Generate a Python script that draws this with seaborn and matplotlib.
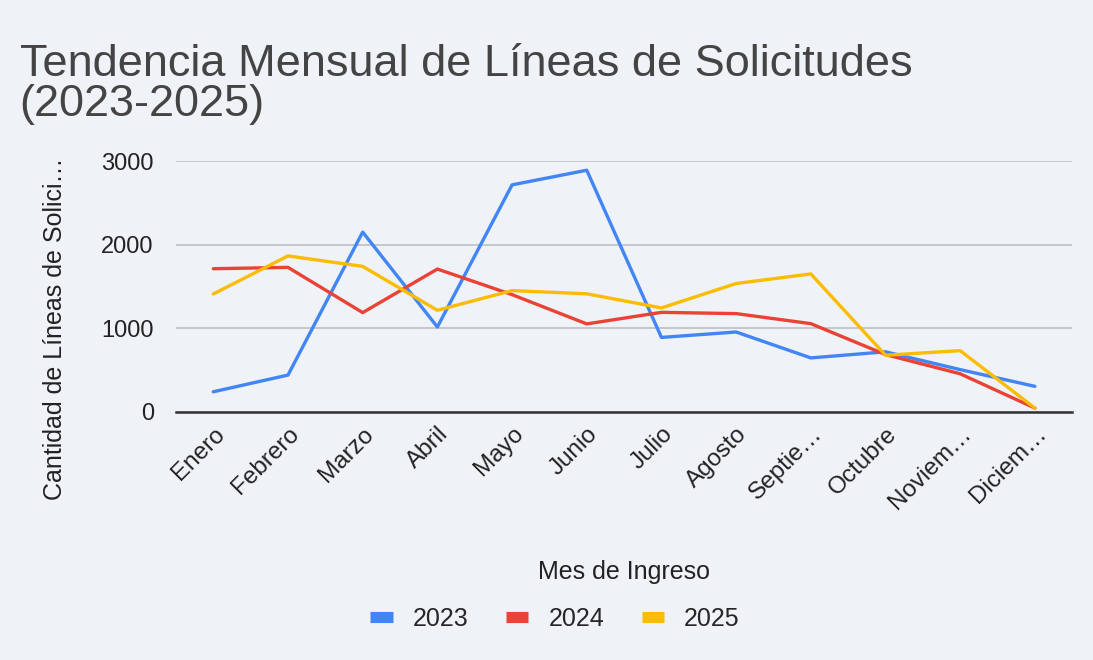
import numpy as np
import pandas as pd
import matplotlib.pyplot as plt
import matplotlib.transforms as mtransforms
import seaborn as sns
from matplotlib.lines import Line2D

# Month labels as shown (truncated in the original)
meses = ["Enero", "Febrero", "Marzo", "Abril", "Mayo", "Junio", "Julio",
         "Agosto", "Septie…", "Octubre", "Noviem…", "Diciem…"]
years = ["2023", "2024", "2025"]

lineas_2023 = [240, 440, 2150, 1015, 2715, 2890, 890, 955, 645, 718, 505, 305]
lineas_2024 = [1712, 1728, 1187, 1708, 1402, 1052, 1190, 1175, 1055, 685, 455, 45]
lineas_2025 = [1410, 1865, 1740, 1215, 1450, 1412, 1243, 1535, 1650, 677, 732, 45]

colors = ["#4285F4", "#EA4335", "#FBBC04"]
bg = "#eff2f7"

df = pd.DataFrame({
    "mes": list(range(12)) * 3,
    "lineas": lineas_2023 + lineas_2024 + lineas_2025,
    "anio": sum([[y] * 12 for y in years], []),
})

sns.set_style("white")
plt.rcParams["font.family"] = ["Liberation Sans", "DejaVu Sans"]

fig = plt.figure(figsize=(10.93, 6.6), dpi=100, facecolor=bg)
ax = fig.add_axes([0.161, 0.376, 0.82, 0.380], facecolor=bg)

sns.lineplot(data=df, x="mes", y="lineas", hue="anio", palette=colors,
             linewidth=2.4, ax=ax, legend=False)

ax.set_xlim(-0.5, 11.5)
ax.set_ylim(0, 3000)
ax.set_yticks([0, 1000, 2000, 3000])
ax.yaxis.grid(True, color="#c3c6cb", linewidth=1.4)
ax.set_axisbelow(True)
for s in ["top", "right", "left"]:
    ax.spines[s].set_visible(False)
ax.spines["bottom"].set_color("#333333")
ax.spines["bottom"].set_linewidth(1.8)
ax.spines["bottom"].set_zorder(5)

ax.set_xticks(range(12))
ax.set_xticklabels(meses, rotation=45, ha="right", va="top",
                   rotation_mode="anchor", fontsize=17.5, color="#222222")
# nudge the rotated month labels so their ends sit just right of each tick
shift = mtransforms.ScaledTranslation(16 / 100, -6 / 100, fig.dpi_scale_trans)
for lbl in ax.get_xticklabels():
    lbl.set_transform(lbl.get_transform() + shift)
ax.tick_params(axis="y", labelsize=17, labelcolor="#222222", length=0, pad=16)
ax.tick_params(axis="x", length=0, pad=8)

ax.set_xlabel("Mes de Ingreso", fontsize=18, color="#222222")
ax.xaxis.set_label_coords(0.5, -0.59)
ax.set_ylabel("Cantidad de Líneas de Solici…", fontsize=18, color="#222222")
ax.yaxis.set_label_coords(-0.122, 0.33)

fig.text(0.018, 0.872, "Tendencia Mensual de Líneas de Solicitudes\n(2023-2025)",
         fontsize=32.5, color="#444444", ha="left", va="center", linespacing=0.95)

handles = [Line2D([0], [0], color=c, linewidth=8, solid_capstyle="butt")
           for c in colors]
fig.legend(handles, years, loc="center", bbox_to_anchor=(555 / 1093, 1 - 619 / 660),
           ncol=3, frameon=False, fontsize=18, handlelength=0.9,
           columnspacing=1.5, handletextpad=0.8)

plt.savefig("out.png", dpi=100, facecolor=bg)
